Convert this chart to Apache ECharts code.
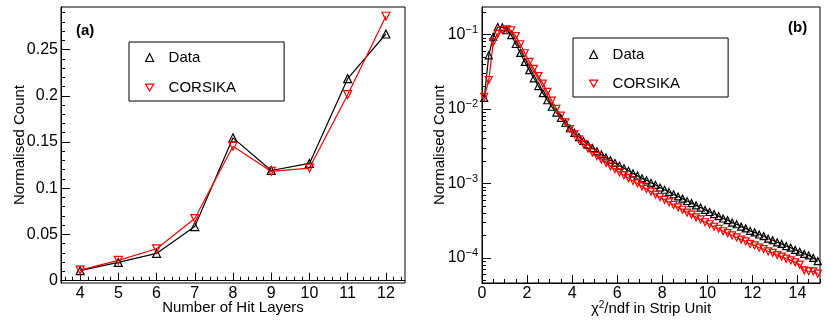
<!DOCTYPE html>
<html lang="en">
<head>
	<meta charset="UTF-8">
	<title>Hit layers and chi2/ndf</title>
	<style>
		*{
			margin: 0;
			padding: 0;
		}
		#chart{
			width: 830px;
			height: 327px;
			background: #fff;
		}
	</style>
	<script src="https://cdn.jsdelivr.net/npm/echarts@6/dist/echarts.min.js"></script>
</head>
<body>
	<div id="chart"></div>
	<script>
		// (a) number of hit layers
		var layers = [4, 5, 6, 7, 8, 9, 10, 11, 12];
		var layerData = [0.0108, 0.0198, 0.0295, 0.0585, 0.1545, 0.1192, 0.1268, 0.2185, 0.2668];
		var layerSim = [0.0115, 0.0220, 0.0345, 0.0672, 0.1455, 0.1182, 0.1218, 0.2012, 0.2860];
		var layerTicks = [0, 0.05, 0.1, 0.15, 0.2, 0.25];

		// (b) chi2/ndf, 75 bins of 0.2 from 0 to 15
		var binWidth = 0.2;
		var chi2Data = [
			0.0141, 0.0525, 0.0935, 0.126, 0.125, 0.114, 0.098, 0.0745, 0.0565, 0.0428,
			0.0332, 0.0258, 0.0203, 0.0163, 0.0131, 0.0107, 0.00895, 0.00758, 0.00648, 0.00551,
			0.00478, 0.00418, 0.00371, 0.00332, 0.00298, 0.00270, 0.00245, 0.00223, 0.00205, 0.00188,
			0.00173, 0.00160, 0.00148, 0.00137, 0.00127, 0.00117, 0.00110, 0.00102, 0.000955, 0.000882,
			0.000822, 0.000768, 0.000715, 0.000668, 0.000625, 0.000581, 0.000544, 0.000507, 0.000474, 0.000441,
			0.000413, 0.000388, 0.000364, 0.000338, 0.000321, 0.000298, 0.000283, 0.000263, 0.000249, 0.000231,
			0.000220, 0.000206, 0.000196, 0.000181, 0.000173, 0.000162, 0.000154, 0.000144, 0.000137, 0.000128,
			0.000121, 0.000113, 0.000108, 0.000100, 0.0000905
		];
		var chi2Sim = [
			0.0145, 0.0245, 0.0790, 0.102, 0.114, 0.117, 0.114, 0.0955, 0.0740, 0.0560,
			0.0428, 0.0346, 0.0276, 0.0219, 0.0170, 0.0129, 0.0100, 0.00815, 0.00660, 0.00538,
			0.00457, 0.00390, 0.00338, 0.00296, 0.00260, 0.00232, 0.00208, 0.00189, 0.00170, 0.00155,
			0.00141, 0.00129, 0.00117, 0.00108, 0.00100, 0.000912, 0.000842, 0.000775, 0.000708, 0.000654,
			0.000602, 0.000557, 0.000513, 0.000478, 0.000443, 0.000406, 0.000381, 0.000350, 0.000328, 0.000301,
			0.000283, 0.000262, 0.000246, 0.000228, 0.000215, 0.000200, 0.000188, 0.000176, 0.000167, 0.000154,
			0.000147, 0.000137, 0.000131, 0.000122, 0.000117, 0.000109, 0.000104, 0.0000975, 0.0000925, 0.0000870,
			0.0000812, 0.0000680, 0.0000662, 0.0000660, 0.0000615
		];
		var chi2Ticks = [0, 2, 4, 6, 8, 10, 12, 14];
		var decadeTicks = [1e-4, 1e-3, 1e-2, 1e-1];

		var font = 'Liberation Sans, Arial, sans-serif';
		var red = '#ff0000';

		// minor tick positions
		var minorLayer = [], minorCount = [], minorChi2 = [], minorLog = [];
		for (var i = 36; i <= 124; i += 2) if (i % 10) minorLayer.push(i / 10);
		for (var i = 0; i <= 29; i++) if (i % 5) minorCount.push(i / 100);
		for (var i = 1; i <= 30; i++) if (i % 4) minorChi2.push(i / 2);
		for (var e = -5; e <= -1; e++) for (var m = 2; m <= 9; m++) minorLog.push(m * Math.pow(10, e));

		var bins = chi2Data.map((v, i) => +(binWidth * (i + 0.5)).toFixed(2));
		var chi2DataPts = chi2Data.map((v, i) => [bins[i], v]);
		var chi2SimPts = chi2Sim.map((v, i) => [bins[i], v]);

		function mainAxis(grid, extra) {
			var ax = {
				gridIndex: grid,
				axisLine: {show: true, lineStyle: {color: '#000', width: 1}},
				axisTick: {show: true, inside: true, length: 8, lineStyle: {color: '#000'}},
				axisLabel: {color: '#000', fontSize: 16, fontFamily: font},
				splitLine: {show: false},
				nameLocation: 'middle',
				nameMoveOverlap: false,
				nameTextStyle: {color: '#000', fontSize: 15, fontFamily: font}
			};
			return Object.assign(ax, extra);
		}
		function minorAxis(grid, extra, ticks) {
			var ax = {
				gridIndex: grid,
				axisLine: {show: false},
				axisTick: {show: true, inside: true, length: 4, customValues: ticks, lineStyle: {color: '#000'}},
				axisLabel: {show: false},
				splitLine: {show: false}
			};
			return Object.assign(ax, extra);
		}

		function logLabel(v) {
			var e = Math.round(Math.log10(v));
			return '10{s|' + (e < 0 ? '\u2212' : '') + Math.abs(e) + '}';
		}

		var hollow = {color: 'rgba(255,255,255,0)', borderWidth: 1.2};

		var chart = echarts.init(document.getElementById('chart'));
		var option = {
			animation: false,
			backgroundColor: '#fff',
			grid: [
				{left: 61, top: 7, width: 344, height: 276, show: true, borderColor: '#000', borderWidth: 1, backgroundColor: 'transparent'},
				{left: 482, top: 7, width: 338, height: 276, show: true, borderColor: '#000', borderWidth: 1, backgroundColor: 'transparent'}
			],
			xAxis: [
				mainAxis(0, {
					type: 'value', min: 3.5, max: 12.5, position: 'bottom',
					name: 'Number of Hit Layers', nameGap: 17,
					axisTick: {show: true, inside: true, length: 8, customValues: layers, lineStyle: {color: '#000'}},
					axisLabel: {color: '#000', fontSize: 16, fontFamily: font, margin: 3, customValues: layers}
				}),
				minorAxis(0, {type: 'value', min: 3.5, max: 12.5, position: 'bottom'}, minorLayer),
				mainAxis(1, {
					type: 'value', min: 0, max: 15, position: 'bottom',
					name: '{n|\u03c7}{s|2}{n|/ndf in Strip Unit}', nameGap: 17,
					nameTextStyle: {
						color: '#000', fontSize: 15, fontFamily: font,
						rich: {
							n: {fontSize: 15, fontFamily: font, color: '#000'},
							s: {fontSize: 10, fontFamily: font, color: '#000', padding: [0, 0, 8, 0]}
						}
					},
					axisTick: {show: true, inside: true, length: 8, customValues: chi2Ticks, lineStyle: {color: '#000'}},
					axisLabel: {color: '#000', fontSize: 16, fontFamily: font, margin: 3, customValues: chi2Ticks}
				}),
				minorAxis(1, {type: 'value', min: 0, max: 15, position: 'bottom'}, minorChi2)
			],
			yAxis: [
				mainAxis(0, {
					type: 'value', min: -0.0025, max: 0.296, position: 'left',
					name: 'Normalised Count', nameGap: 34,
					axisTick: {show: true, inside: true, length: 9, customValues: layerTicks, lineStyle: {color: '#000'}},
					axisLabel: {color: '#000', fontSize: 16, fontFamily: font, margin: 3, customValues: layerTicks}
				}),
				minorAxis(0, {type: 'value', min: -0.0025, max: 0.296, position: 'left'}, minorCount),
				mainAxis(1, {
					type: 'log', logBase: 10, min: 4.6e-5, max: 0.234, position: 'left',
					name: 'Normalised Count', nameGap: 35,
					axisTick: {show: true, inside: true, length: 9, customValues: decadeTicks, lineStyle: {color: '#000'}},
					axisLabel: {
						color: '#000', fontSize: 16, fontFamily: font, margin: 4, customValues: decadeTicks,
						formatter: logLabel,
						rich: {s: {fontSize: 11, fontFamily: font, color: '#000', padding: [0, 0, 9, 0]}}
					}
				}),
				minorAxis(1, {type: 'log', logBase: 10, min: 4.6e-5, max: 0.234, position: 'left'}, minorLog)
			],
			legend: [
				{
					left: 129, top: 42, orient: 'vertical', selectedMode: false,
					padding: [8, 48, 6, 16], itemGap: 15, itemWidth: 8, itemHeight: 8,
					borderColor: '#000', borderWidth: 1, backgroundColor: '#fff',
					textStyle: {color: '#000', fontSize: 15, fontFamily: font, padding: [0, 0, 0, 10]},
					data: [
						{name: 'Data', icon: 'triangle', itemStyle: {color: '#fff', borderColor: '#000', borderWidth: 1.2}},
						{name: 'CORSIKA', icon: 'path://M0,0L10,0L5,8.66Z', itemStyle: {color: '#fff', borderColor: red, borderWidth: 1.2}}
					]
				},
				{
					left: 573, top: 38, orient: 'vertical', selectedMode: false,
					padding: [9, 48, 6, 16], itemGap: 14, itemWidth: 8, itemHeight: 8,
					borderColor: '#000', borderWidth: 1, backgroundColor: '#fff',
					textStyle: {color: '#000', fontSize: 15, fontFamily: font, padding: [0, 0, 0, 10]},
					data: [
						{name: 'Data', icon: 'triangle', itemStyle: {color: '#fff', borderColor: '#000', borderWidth: 1.2}},
						{name: 'CORSIKA', icon: 'path://M0,0L10,0L5,8.66Z', itemStyle: {color: '#fff', borderColor: red, borderWidth: 1.2}}
					]
				}
			],
			graphic: [
				{type: 'text', left: 76, top: 23, style: {text: '(a)', font: 'bold 15px ' + font, fill: '#000'}},
				{type: 'text', left: 788, top: 20, style: {text: '(b)', font: 'bold 15px ' + font, fill: '#000'}}
			],
			series: [
				{
					name: 'Data', type: 'line', xAxisIndex: 0, yAxisIndex: 0,
					data: layers.map((x, i) => [x, layerData[i]]),
					symbol: 'triangle', symbolSize: 8,
					itemStyle: Object.assign({borderColor: '#000'}, hollow),
					lineStyle: {color: '#000', width: 1.2}
				},
				{
					name: 'CORSIKA', type: 'line', xAxisIndex: 0, yAxisIndex: 0,
					data: layers.map((x, i) => [x, layerSim[i]]),
					symbol: 'triangle', symbolRotate: 180, symbolSize: 8,
					itemStyle: Object.assign({borderColor: red}, hollow),
					lineStyle: {color: red, width: 1.2}
				},
				{
					name: 'Data', type: 'line', xAxisIndex: 2, yAxisIndex: 2,
					data: chi2DataPts, showAllSymbol: true,
					symbol: 'triangle', symbolSize: 7,
					itemStyle: Object.assign({borderColor: '#000'}, hollow),
					lineStyle: {color: '#000', width: 1.2}
				},
				{
					name: 'CORSIKA', type: 'line', xAxisIndex: 2, yAxisIndex: 2,
					data: chi2SimPts, showAllSymbol: true,
					symbol: 'triangle', symbolRotate: 180, symbolSize: 7,
					itemStyle: Object.assign({borderColor: red}, hollow),
					lineStyle: {color: red, width: 1.2}
				}
			]
		};
		chart.setOption(option);
	</script>
</body>
</html>
